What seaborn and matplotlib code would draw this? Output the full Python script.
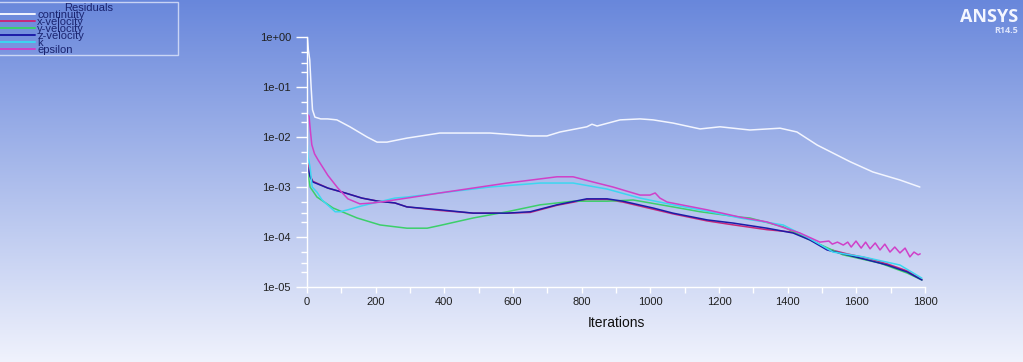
import numpy as np
import pandas as pd
import matplotlib
matplotlib.use("Agg")
import matplotlib.pyplot as plt
from matplotlib.ticker import LogLocator, MultipleLocator, NullFormatter, FuncFormatter
import seaborn as sns

# Residual histories (iteration, residual)
continuity_it = [1, 4, 8, 12, 16, 23, 40, 60, 87, 125, 175, 204, 233, 291, 387, 533, 650, 699,
                 737, 815, 830, 845, 912, 970, 1008, 1066, 1145, 1203, 1290, 1378, 1427, 1486,
                 1582, 1648, 1727, 1785]
continuity = [1.0, 0.55, 0.35, 0.1, 0.035, 0.025, 0.023, 0.023, 0.022, 0.016, 0.010, 0.0079,
              0.0079, 0.0095, 0.012, 0.012, 0.0105, 0.0105, 0.0126, 0.016, 0.018, 0.0166, 0.022,
              0.023, 0.022, 0.019, 0.0145, 0.016, 0.0138, 0.015, 0.0126, 0.0069, 0.0032, 0.002,
              0.00138, 0.001]

xvel_it = [2, 9, 17, 61, 111, 160, 207, 256, 291, 387, 484, 583, 650, 728, 815, 874, 920, 1008,
           1066, 1165, 1241, 1340, 1416, 1465, 1515, 1573, 1631, 1690, 1748, 1791]
xvel = [3.0e-3, 1.7e-3, 1.3e-3, 9.5e-4, 7.6e-4, 6.0e-4, 5.2e-4, 4.8e-4, 4.0e-4, 3.4e-4, 3.0e-4,
        3.0e-4, 3.1e-4, 4.3e-4, 5.6e-4, 5.6e-4, 5.0e-4, 3.6e-4, 2.9e-4, 2.1e-4, 1.75e-4, 1.4e-4,
        1.25e-4, 9.0e-5, 5.8e-5, 4.6e-5, 3.8e-5, 2.9e-5, 2.1e-5, 1.4e-5]

yvel_it = [2, 9, 29, 76, 146, 213, 291, 350, 387, 484, 583, 679, 775, 874, 950, 1066, 1145, 1261,
           1290, 1387, 1465, 1561, 1669, 1748, 1791]
yvel = [2.0e-3, 1.0e-3, 6.3e-4, 3.8e-4, 2.4e-4, 1.74e-4, 1.5e-4, 1.5e-4, 1.7e-4, 2.4e-4, 3.2e-4,
        4.4e-4, 5.2e-4, 5.2e-4, 5.5e-4, 4.0e-4, 3.2e-4, 2.5e-4, 2.4e-4, 1.6e-4, 8.7e-5, 4.4e-5,
        3.0e-5, 1.9e-5, 1.38e-5]

zvel_it = [2, 9, 17, 61, 111, 160, 207, 256, 291, 387, 484, 583, 650, 728, 815, 874, 920, 1008,
           1066, 1165, 1241, 1340, 1416, 1465, 1515, 1573, 1631, 1690, 1748, 1791]
zvel = [2.5e-3, 1.6e-3, 1.26e-3, 9.5e-4, 7.6e-4, 6.0e-4, 5.2e-4, 4.8e-4, 4.0e-4, 3.5e-4, 3.0e-4,
        3.0e-4, 3.2e-4, 4.4e-4, 5.8e-4, 5.8e-4, 5.2e-4, 3.8e-4, 3.0e-4, 2.2e-4, 1.9e-4, 1.5e-4,
        1.2e-4, 8.7e-5, 5.5e-5, 4.4e-5, 3.5e-5, 2.75e-5, 2.0e-5, 1.38e-5]

k_it = [1, 3, 9, 15, 29, 44, 82, 96, 119, 160, 207, 256, 291, 387, 533, 679, 775, 874, 970, 1066,
        1145, 1261, 1387, 1456, 1532, 1620, 1727, 1791]
k_res = [7.0e-3, 4.0e-3, 2.5e-3, 1.0e-3, 7.9e-4, 5.5e-4, 3.2e-4, 3.2e-4, 3.5e-4, 4.2e-4, 5.0e-4,
         6.0e-4, 6.3e-4, 7.6e-4, 1.0e-3, 1.2e-3, 1.2e-3, 9.1e-4, 6.0e-4, 4.4e-4, 3.5e-4, 2.4e-4,
         1.74e-4, 1.0e-4, 5.0e-5, 4.0e-5, 2.75e-5, 1.5e-5]

eps_it = [2, 6, 10, 14, 22, 32, 61, 90, 119, 154, 192, 213, 291, 387, 583, 728, 775, 833, 891,
          970, 999, 1014, 1028, 1049, 1165, 1261, 1340, 1436, 1494, 1520, 1530, 1545, 1562, 1575,
          1585, 1599, 1614, 1627, 1640, 1655, 1669, 1683, 1698, 1712, 1727, 1742, 1756, 1768,
          1780, 1786]
eps = [2.8e-2, 2.6e-2, 1.3e-2, 7.0e-3, 4.6e-3, 3.5e-3, 1.7e-3, 9.5e-4, 5.8e-4, 4.6e-4, 4.8e-4,
       5.0e-4, 6.0e-4, 7.6e-4, 1.2e-3, 1.6e-3, 1.6e-3, 1.26e-3, 1.0e-3, 6.9e-4, 6.9e-4, 7.6e-4,
       6.0e-4, 5.0e-4, 3.5e-4, 2.5e-4, 2.0e-4, 1.2e-4, 7.9e-5, 8.3e-5, 7.2e-5, 7.9e-5, 6.9e-5,
       7.9e-5, 6.3e-5, 8.3e-5, 6.0e-5, 7.9e-5, 5.8e-5, 7.6e-5, 5.5e-5, 7.2e-5, 5.0e-5, 6.3e-5,
       4.8e-5, 6.0e-5, 4.0e-5, 5.0e-5, 4.4e-5, 4.6e-5]

names = ["continuity", "x-velocity", "y-velocity", "z-velocity", "k", "epsilon"]
colors = ["#f2f5ff", "#c8287a", "#3ccf6a", "#1c1ca8", "#3cd6f0", "#d040c8"]

series = [(continuity_it, continuity), (xvel_it, xvel), (yvel_it, yvel),
          (zvel_it, zvel), (k_it, k_res), (eps_it, eps)]
frames = []
for name, (it, res) in zip(names, series):
    frames.append(pd.DataFrame({"Iterations": it, "Residual": res, "var": name}))
df = pd.concat(frames, ignore_index=True)

sns.set_style("ticks")
plt.rcParams["font.family"] = ["Liberation Sans", "DejaVu Sans"]

fig = plt.figure(figsize=(10.23, 3.62), dpi=100)

# blue-to-white background like the Fluent graphics window
bg = fig.add_axes([0, 0, 1, 1], zorder=-10)
top = np.array([0.41, 0.53, 0.86])
bot = np.array([0.94, 0.95, 0.99])
t = np.linspace(0, 1, 256)[:, None]
grad = (top[None, :] * (1 - t) + bot[None, :] * t)[:, None, :]
bg.imshow(grad, aspect="auto", extent=[0, 1, 0, 1])
bg.set_axis_off()

ax = fig.add_axes([307 / 1023, 1 - 287 / 362, (925 - 307) / 1023, (287 - 37) / 362])
ax.set_facecolor("none")
sns.lineplot(data=df, x="Iterations", y="Residual", hue="var", palette=dict(zip(names, colors)),
             estimator=None, sort=True, linewidth=1.1, ax=ax, legend=False)
ax.set_yscale("log")
ax.set_ylim(1e-5, 1.0)
ax.set_xlim(0, 1800)

for s in ["top", "right"]:
    ax.spines[s].set_visible(False)
for s in ["left", "bottom"]:
    ax.spines[s].set_color("white")
    ax.spines[s].set_linewidth(1.0)

ax.yaxis.set_major_locator(LogLocator(base=10, numticks=10))
ax.yaxis.set_minor_locator(LogLocator(base=10, subs=(2, 3, 5), numticks=10))
ax.yaxis.set_minor_formatter(NullFormatter())
ax.yaxis.set_major_formatter(FuncFormatter(lambda v, p: "%.0e" % v))
ax.xaxis.set_major_locator(MultipleLocator(200))
ax.xaxis.set_minor_locator(MultipleLocator(100))
ax.tick_params(axis="both", which="major", colors="white", labelcolor="#202020",
               labelsize=8, length=8, width=1)
ax.tick_params(axis="both", which="minor", colors="white", length=4, width=1)
ax.tick_params(axis="x", which="major", length=4)
ax.set_ylabel("")
ax.set_xlabel("Iterations", fontsize=10, color="#101010", labelpad=6)

# legend box in upper left
handles = ax.get_lines()[:len(names)]
leg = fig.legend(handles, names, title="Residuals", loc="upper left",
                 bbox_to_anchor=(-0.001, 1 - 57 / 362, 179 / 1023, 55 / 362), mode="expand",
                 fontsize=8, title_fontsize=8,
                 labelspacing=-0.27, handlelength=3.2, handletextpad=0.2,
                 borderpad=0.05, borderaxespad=0, frameon=True, fancybox=False)
leg.get_frame().set_facecolor("none")
leg.get_frame().set_edgecolor("#dfe6fb")
leg.get_frame().set_linewidth(1.0)
for txt in leg.get_texts():
    txt.set_color("#1a2470")
leg.get_title().set_color("#1a2470")
for h in leg.legend_handles:
    h.set_linewidth(1.4)

fig.text(0.995, 1 - 8 / 362, "ANSYS", ha="right", va="top", fontsize=13,
         fontweight="bold", color="#f4f6ff", family="Open Sans")
fig.text(0.995, 1 - 26 / 362, "R14.5", ha="right", va="top", fontsize=6.5,
         fontweight="bold", color="#dde4fb", family="Open Sans")

fig.savefig("out.png", dpi=100)
